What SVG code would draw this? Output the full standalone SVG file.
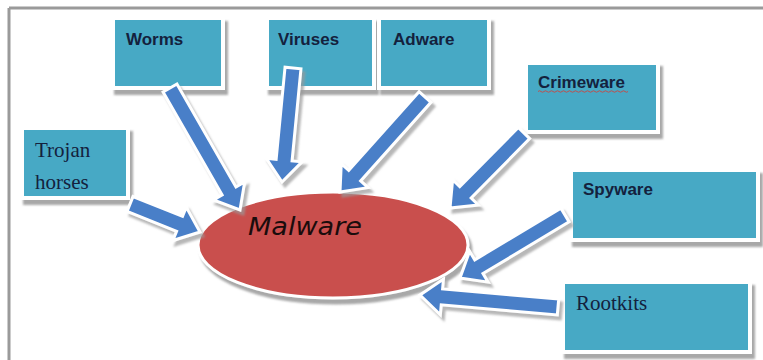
<svg xmlns="http://www.w3.org/2000/svg" width="763" height="360" viewBox="0 0 763 360">
<defs>
<filter id="sh" x="-20%" y="-20%" width="150%" height="150%"><feDropShadow dx="3" dy="5" stdDeviation="1" flood-color="#8a8a8a" flood-opacity="0.75"/></filter>
<filter id="ash" x="-20%" y="-20%" width="150%" height="150%"><feDropShadow dx="3" dy="4" stdDeviation="1.2" flood-color="#999" flood-opacity="0.7"/></filter>
<style>
.box{fill:#46a9c5;stroke:#fff;stroke-width:4;filter:url(#sh)}
.lbl{font-family:"Liberation Sans",Arial,sans-serif;font-weight:bold;font-size:17px;fill:#14213d}
.ser{font-family:"Liberation Serif","Times New Roman",serif;font-size:21px;fill:#14213d}
.arr{fill:#4a7fc8;stroke:#fff;stroke-width:3;stroke-linejoin:miter;filter:url(#ash)}
</style>
</defs>
<rect width="763" height="360" fill="#fff"/>
<g id="frame" fill="none" stroke="#9a9a9a" stroke-width="3">
<line x1="9" y1="8" x2="763" y2="8"/>
<line x1="9" y1="8" x2="9" y2="360"/>
</g>
<g id="worms"><rect class="box" x="113" y="18" width="110" height="70"/><text class="lbl" x="126" y="45">Worms</text></g>
<g id="viruses"><rect class="box" x="267" y="18" width="107" height="70"/><text class="lbl" x="278" y="45">Viruses</text></g>
<g id="adware"><rect class="box" x="379" y="18" width="110" height="70"/><text class="lbl" x="393" y="45">Adware</text></g>
<g id="crimeware"><rect class="box" x="526" y="63" width="132" height="69"/><text class="lbl" x="538" y="88">Crimeware</text>
<path d="M538 91.5 q1.5 -1.5 3 0 t3 0 t3 0 t3 0 t3 0 t3 0 t3 0 t3 0 t3 0 t3 0 t3 0 t3 0 t3 0 t3 0 t3 0 t3 0 t3 0 t3 0 t3 0 t3 0 t3 0 t3 0 t3 0 t3 0 t3 0 t3 0 t3 0 t3 0 t3 0 t3 0" fill="none" stroke="#c0504d" stroke-width="1"/></g>
<g id="spyware"><rect class="box" x="571" y="170" width="187" height="70"/><text class="lbl" x="583" y="195">Spyware</text></g>
<g id="rootkits"><rect class="box" x="563" y="282" width="187" height="70"/><text class="ser" x="576" y="310">Rootkits</text></g>
<g id="trojan"><rect class="box" x="22" y="128" width="106" height="70"/><text class="ser" x="35" y="157">Trojan</text><text class="ser" x="35" y="189">horses</text></g>
<g id="malware">
<ellipse cx="333" cy="245" rx="135" ry="53" fill="#c9504d" stroke="#fff" stroke-width="3" filter="url(#sh)"/>
<text x="248" y="235" font-family="'DejaVu Sans',Verdana,sans-serif" font-style="italic" font-size="25" fill="#1a0c0c" textLength="114" lengthAdjust="spacingAndGlyphs">Malware</text>
</g>
<g id="connectors">
<polygon class="arr" points="163.06,91.98 222.11,194.90 213.44,199.88 240,210 244.66,181.96 235.99,186.94 176.94,84.02"/>
<polygon class="arr" points="285.04,67.23 276.15,159.33 266.19,158.37 282,182 302.03,161.83 292.07,160.87 300.96,68.77"/>
<polygon class="arr" points="419.04,91.67 348.71,170.28 341.26,163.61 340,192 368.08,187.61 360.63,180.94 430.96,102.33"/>
<polygon class="arr" points="518.31,127.38 459.76,186.72 452.64,179.70 450,208 478.26,204.98 471.14,197.96 529.69,138.62"/>
<polygon class="arr" points="560.88,208.14 474.75,259.82 469.61,251.24 460,278 488.13,282.12 482.99,273.54 569.12,221.86"/>
<polygon class="arr" points="558.69,299.03 442.61,288.94 443.48,278.98 420,295 440.36,314.84 441.23,304.88 557.31,314.97"/>
<polygon class="arr" points="127.03,211.43 176.60,231.26 172.88,240.54 200,232 186.26,207.12 182.54,216.40 132.97,196.57"/>
</g>
</svg>
